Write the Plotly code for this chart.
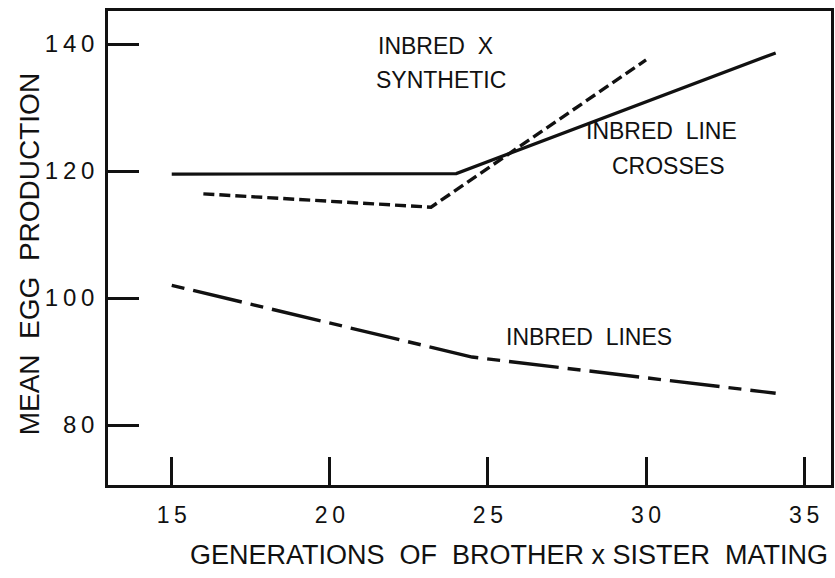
import plotly.graph_objects as go

# Mean egg production vs. generations of brother x sister mating
crosses_x = [15, 24, 34.1]
crosses_y = [119.5, 119.6, 138.6]

synthetic_x = [16, 23.2, 30]
synthetic_y = [116.4, 114.3, 137.5]

inbred_x = [15, 24.5, 34.1]
inbred_y = [102.0, 90.7, 85.0]

x_ticks = [15, 20, 25, 30, 35]
y_ticks = [80, 100, 120, 140]

FONT = "Liberation Sans, Arial, sans-serif"
INK = "#111111"
THIN = "\u2009"


def spaced(v):
    # hand-lettered look: a thin space between digits
    return THIN.join(str(v))


fig = go.Figure()
fig.add_trace(go.Scatter(x=crosses_x, y=crosses_y, mode="lines",
                         line=dict(color=INK, width=3.2)))
fig.add_trace(go.Scatter(x=synthetic_x, y=synthetic_y, mode="lines",
                         line=dict(color=INK, width=3.4, dash="11px,5px")))
fig.add_trace(go.Scatter(x=inbred_x, y=inbred_y, mode="lines",
                         line=dict(color=INK, width=3.4, dash="13px,9px,50px,9px")))

labels = [
    (23.35, 139.7, "INBRED  X"),
    (23.5, 134.3, "SYNTHETIC"),
    (30.5, 126.3, "INBRED  LINE"),
    (30.7, 120.8, "CROSSES"),
    (28.2, 93.9, "INBRED  LINES"),
]
for x, y, t in labels:
    fig.add_annotation(x=x, y=y, text=t, showarrow=False,
                       font=dict(family=FONT, size=23, color=INK))

fig.add_annotation(xref="paper", yref="paper", x=-0.109, y=0.487,
                   xanchor="center", yanchor="middle", textangle=-90,
                   text="MEAN  EGG  PRODUCTION", showarrow=False,
                   font=dict(family=FONT, size=28, color=INK))
fig.add_annotation(xref="paper", yref="paper", x=0.555, y=-0.148,
                   xanchor="center", yanchor="middle",
                   text="GENERATIONS  OF  BROTHER x SISTER  MATING", showarrow=False,
                   font=dict(family=FONT, size=27, color=INK))

fig.update_layout(
    width=835, height=578,
    margin=dict(l=108, r=1, t=11, b=93),
    paper_bgcolor="white", plot_bgcolor="white",
    showlegend=False,
    font=dict(family=FONT, color=INK),
)
fig.update_xaxes(range=[12.984, 35.85], tickvals=x_ticks,
                 ticktext=[spaced(v) for v in x_ticks], ticks="inside",
                 ticklen=28, tickwidth=2.5, tickcolor=INK,
                 showline=True, linewidth=2.5, linecolor=INK, mirror=True,
                 showgrid=False, zeroline=False,
                 tickfont=dict(family=FONT, size=23, color=INK),
                 ticklabelstandoff=8)
fig.update_yaxes(range=[70.55, 145.2], tickvals=y_ticks,
                 ticktext=[spaced(v) for v in y_ticks], ticks="inside",
                 ticklen=31, tickwidth=2.5, tickcolor=INK,
                 showline=True, linewidth=2.5, linecolor=INK, mirror=True,
                 showgrid=False, zeroline=False,
                 tickfont=dict(family=FONT, size=24, color=INK),
                 ticklabelstandoff=6)

fig.write_html("out.html")
